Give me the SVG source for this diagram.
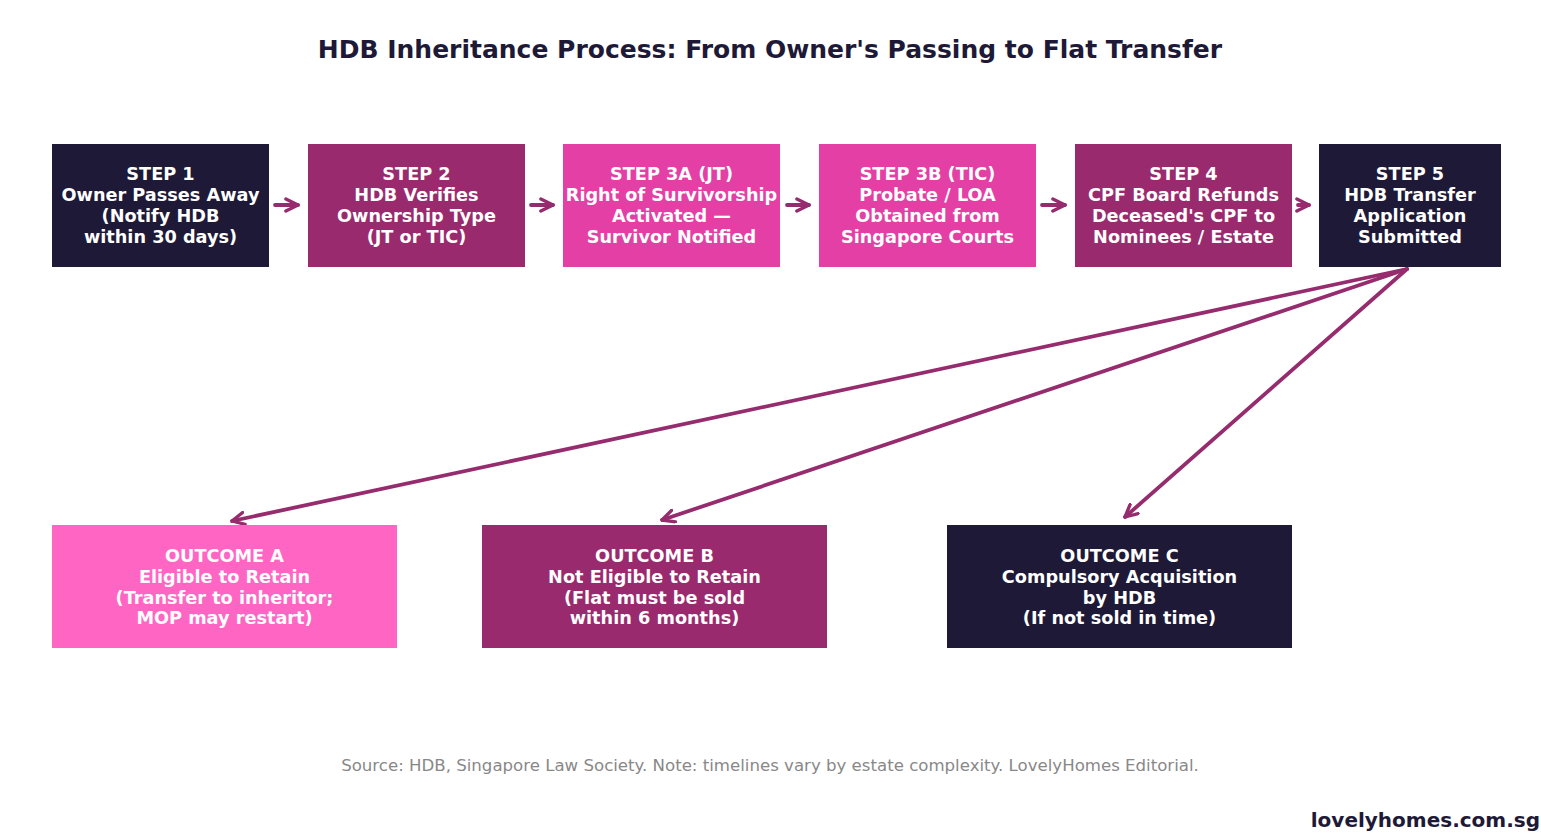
<svg xmlns="http://www.w3.org/2000/svg" width="1541" height="838" viewBox="0 0 1541 838">
<style>
.t{font-family:"DejaVu Sans",sans-serif;font-weight:bold;font-size:17.7px;fill:#ffffff;text-anchor:middle}
.dark{fill:#1d1936}
.purple{fill:#9a2a6e}
.pink{fill:#e43fa5}
.lpink{fill:#ff66c4}
.c{stroke:#962c6e;stroke-width:3.8;fill:none;stroke-linecap:round}
</style>
<defs>
<marker id="ah" viewBox="0 0 10 10" refX="9" refY="5" markerWidth="4" markerHeight="4" orient="auto" markerUnits="strokeWidth">
<path d="M1,1 L9,5 L1,9" fill="none" stroke="#962c6e" stroke-width="2.2" stroke-linecap="round" stroke-linejoin="round"/>
</marker>
</defs>
<rect width="1541" height="838" fill="#ffffff"/>
<text x="770" y="58" style="font-family:'DejaVu Sans',sans-serif;font-weight:bold;font-size:25px;fill:#1d1936;text-anchor:middle">HDB Inheritance Process: From Owner's Passing to Flat Transfer</text>

<g id="connectors">
<line class="c" x1="275" y1="205" x2="298" y2="205" marker-end="url(#ah)"/>
<line class="c" x1="531" y1="205" x2="553" y2="205" marker-end="url(#ah)"/>
<line class="c" x1="787" y1="205" x2="809" y2="205" marker-end="url(#ah)"/>
<line class="c" x1="1042" y1="205" x2="1065" y2="205" marker-end="url(#ah)"/>
<line class="c" x1="1298" y1="205" x2="1309" y2="205" marker-end="url(#ah)"/>
<line class="c" x1="1407" y1="269" x2="232" y2="521" marker-end="url(#ah)"/>
<line class="c" x1="1407" y1="269" x2="662" y2="520" marker-end="url(#ah)"/>
<line class="c" x1="1407" y1="269" x2="1125" y2="517" marker-end="url(#ah)"/>
</g>

<g id="step1"><rect class="dark" x="52" y="144" width="217" height="123"/>
<text class="t" x="160.5" y="180">STEP 1</text><text class="t" x="160.5" y="201">Owner Passes Away</text><text class="t" x="160.5" y="222">(Notify HDB</text><text class="t" x="160.5" y="243">within 30 days)</text></g>

<g id="step2"><rect class="purple" x="308" y="144" width="217" height="123"/>
<text class="t" x="416.5" y="180">STEP 2</text><text class="t" x="416.5" y="201">HDB Verifies</text><text class="t" x="416.5" y="222">Ownership Type</text><text class="t" x="416.5" y="243">(JT or TIC)</text></g>

<g id="step3a"><rect class="pink" x="563" y="144" width="217" height="123"/>
<text class="t" x="671.5" y="180">STEP 3A (JT)</text><text class="t" x="671.5" y="201">Right of Survivorship</text><text class="t" x="671.5" y="222">Activated —</text><text class="t" x="671.5" y="243">Survivor Notified</text></g>

<g id="step3b"><rect class="pink" x="819" y="144" width="217" height="123"/>
<text class="t" x="927.5" y="180">STEP 3B (TIC)</text><text class="t" x="927.5" y="201">Probate / LOA</text><text class="t" x="927.5" y="222">Obtained from</text><text class="t" x="927.5" y="243">Singapore Courts</text></g>

<g id="step4"><rect class="purple" x="1075" y="144" width="217" height="123"/>
<text class="t" x="1183.5" y="180">STEP 4</text><text class="t" x="1183.5" y="201">CPF Board Refunds</text><text class="t" x="1183.5" y="222">Deceased's CPF to</text><text class="t" x="1183.5" y="243">Nominees / Estate</text></g>

<g id="step5"><rect class="dark" x="1319" y="144" width="182" height="123"/>
<text class="t" x="1410" y="180">STEP 5</text><text class="t" x="1410" y="201">HDB Transfer</text><text class="t" x="1410" y="222">Application</text><text class="t" x="1410" y="243">Submitted</text></g>

<g id="outcomeA"><rect class="lpink" x="52" y="525" width="345" height="123"/>
<text class="t" x="224.5" y="562">OUTCOME A</text><text class="t" x="224.5" y="583">Eligible to Retain</text><text class="t" x="224.5" y="604">(Transfer to inheritor;</text><text class="t" x="224.5" y="624">MOP may restart)</text></g>

<g id="outcomeB"><rect class="purple" x="482" y="525" width="345" height="123"/>
<text class="t" x="654.5" y="562">OUTCOME B</text><text class="t" x="654.5" y="583">Not Eligible to Retain</text><text class="t" x="654.5" y="604">(Flat must be sold</text><text class="t" x="654.5" y="624">within 6 months)</text></g>

<g id="outcomeC"><rect class="dark" x="947" y="525" width="345" height="123"/>
<text class="t" x="1119.5" y="562">OUTCOME C</text><text class="t" x="1119.5" y="583">Compulsory Acquisition</text><text class="t" x="1119.5" y="604">by HDB</text><text class="t" x="1119.5" y="624">(If not sold in time)</text></g>

<text x="770" y="771" style="font-family:'DejaVu Sans',sans-serif;font-size:16.6px;fill:#888888;text-anchor:middle">Source: HDB, Singapore Law Society. Note: timelines vary by estate complexity. LovelyHomes Editorial.</text>
<text x="1540" y="827" style="font-family:'DejaVu Sans',sans-serif;font-weight:bold;font-size:20px;fill:#1d1936;text-anchor:end">lovelyhomes.com.sg</text>
</svg>
